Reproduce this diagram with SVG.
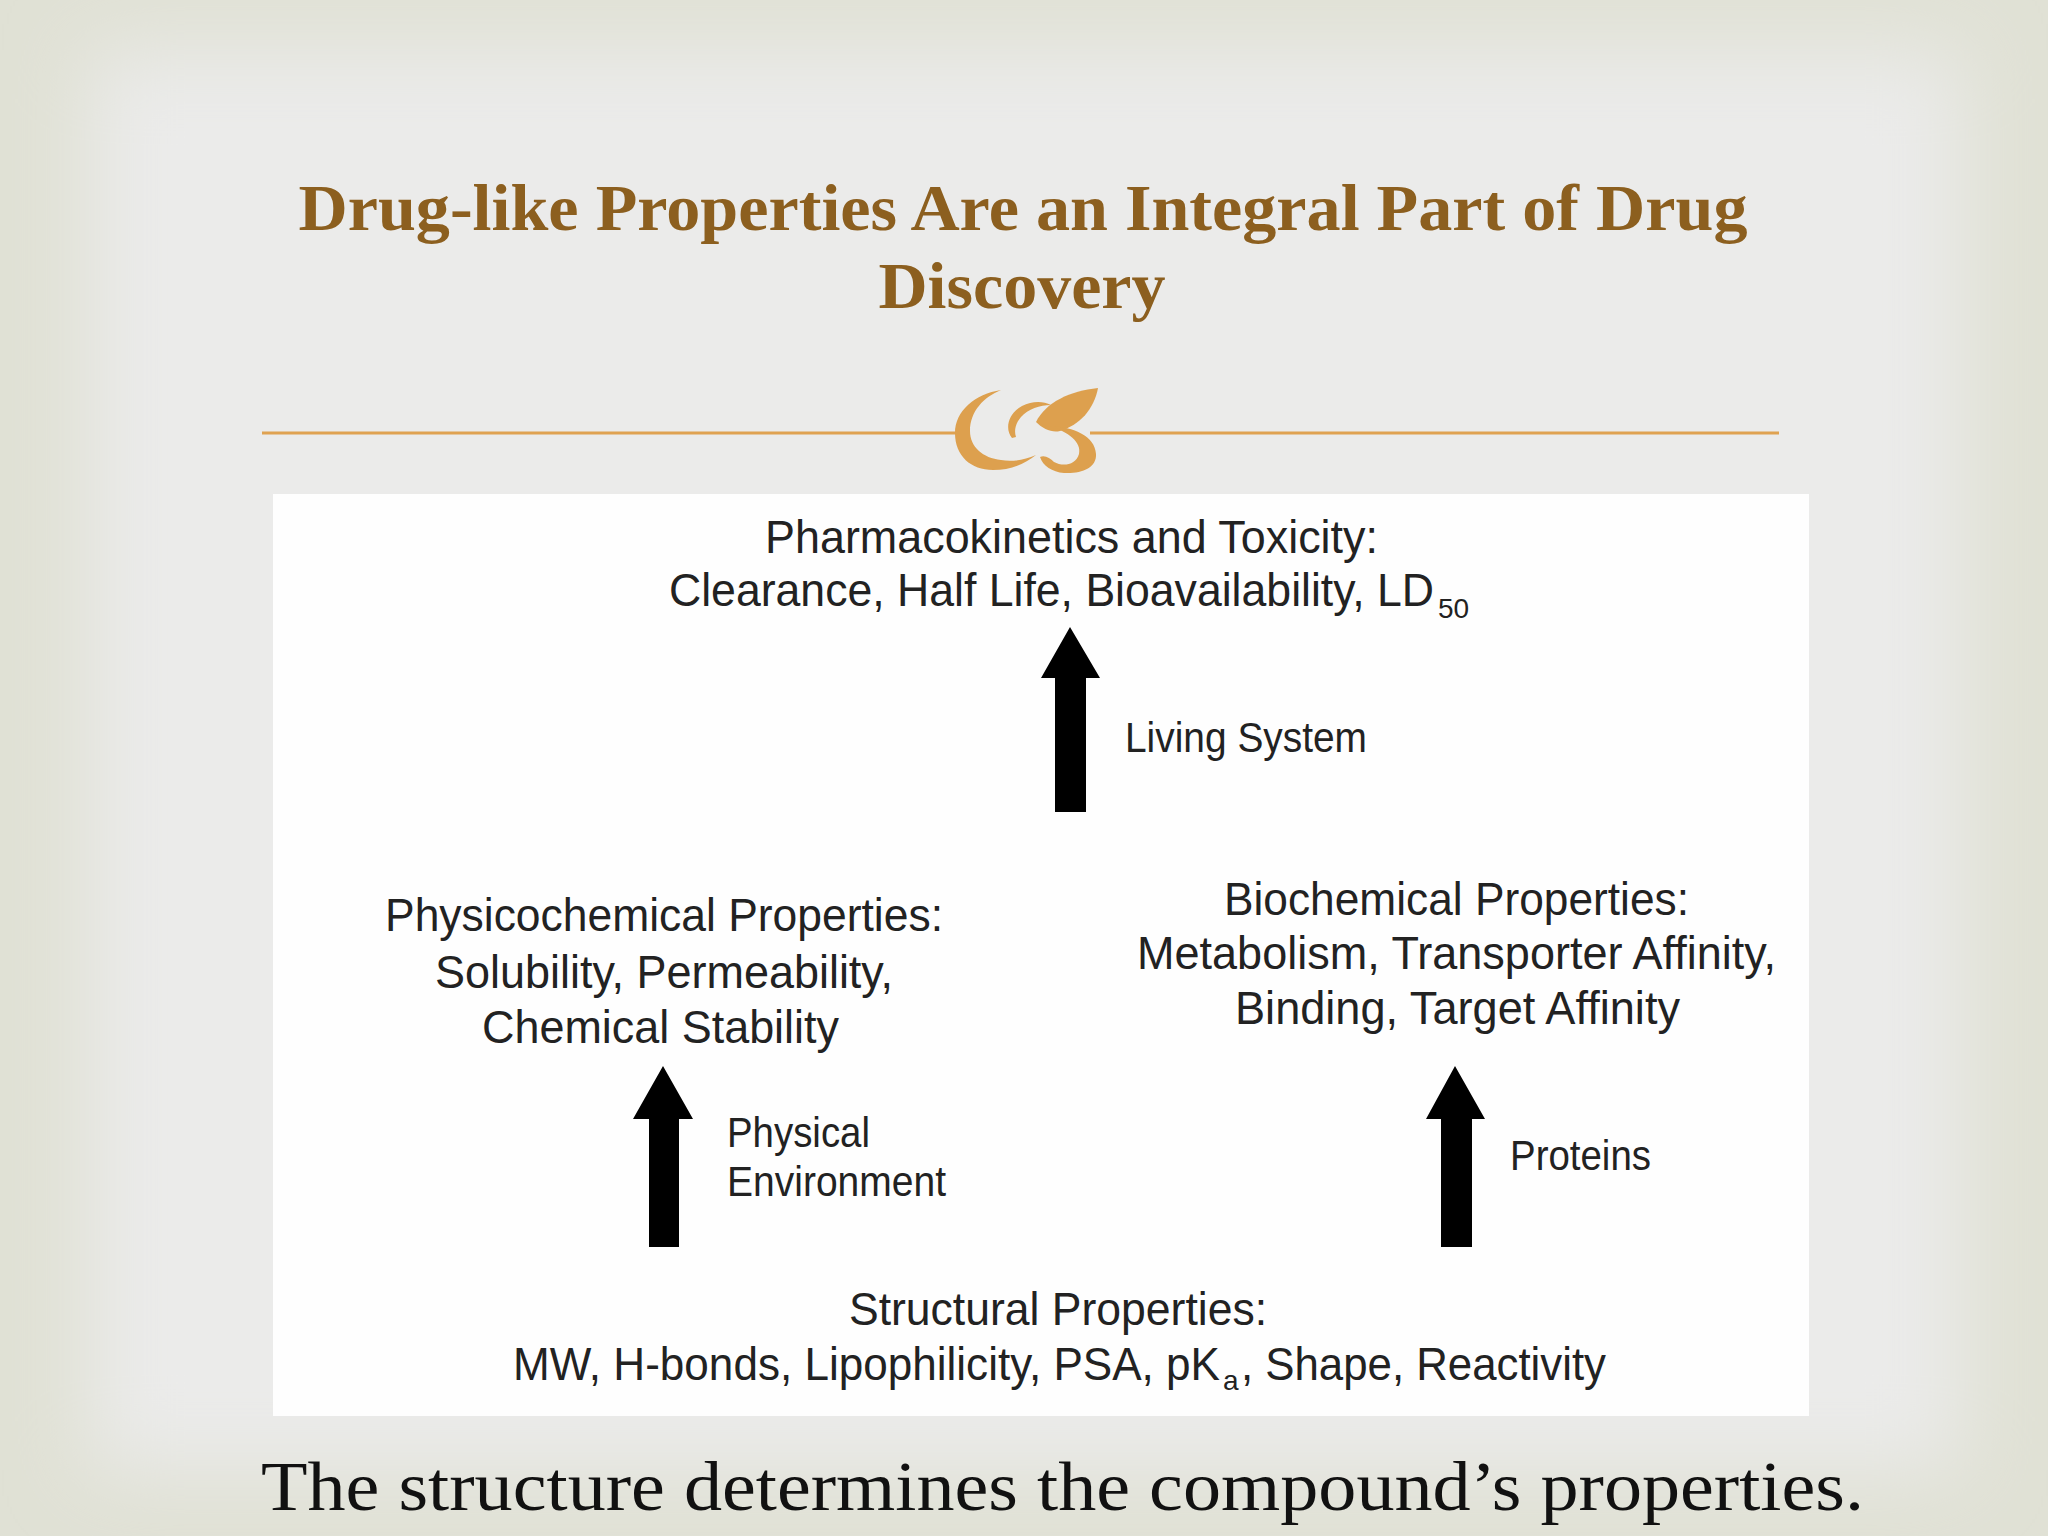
<svg xmlns="http://www.w3.org/2000/svg" width="2048" height="1536" viewBox="0 0 2048 1536">
  <defs>
    <filter id="soft" x="-10%" y="-10%" width="120%" height="120%">
      <feGaussianBlur stdDeviation="40"/>
    </filter>
    <style>
      .title { font-family: "Liberation Serif", "Times New Roman", serif; font-weight: bold; font-size: 66px; fill: #8C5F1F; }
      .lbl { font-family: "Liberation Sans", Arial, sans-serif; font-size: 46px; fill: #222222; }
      .sub { font-size: 28px; }
      .edge { font-family: "Liberation Sans", Arial, sans-serif; font-size: 42px; fill: #222222; }
      .caption { font-family: "Liberation Serif", "Times New Roman", serif; font-size: 70px; fill: #111111; }
      .arrow { fill: #000000; }
      .rule { stroke: #DFA251; stroke-width: 3; fill: none; }
      .orn { fill: #DDA04E; }
    </style>
  </defs>

  <!-- slide background -->
  <rect x="0" y="0" width="2048" height="1536" fill="#E0E1D5"/>
  <rect x="90" y="50" width="1870" height="1420" fill="#EBEBEA" filter="url(#soft)"/>

  <!-- title -->
  <g id="title">
    <text class="title" x="1023" y="230" text-anchor="middle" textLength="1449" lengthAdjust="spacingAndGlyphs">Drug-like Properties Are an Integral Part of Drug</text>
    <text class="title" x="1022" y="308" text-anchor="middle" textLength="287" lengthAdjust="spacingAndGlyphs">Discovery</text>
  </g>

  <!-- divider with ornament -->
  <g id="divider">
    <line class="rule" x1="262" y1="433" x2="958" y2="433"/>
    <line class="rule" x1="1090" y1="433" x2="1779" y2="433"/>
    <path class="orn" d="M1001,390 C975,394 955,411 955,433 C955,456 971,470 993,470 C1010,470 1025,464 1036,455 C1024,460 1012,462 1001,460 C983,458 970,447 970,431 C970,411 984,397 1001,390 Z"/>
    <path class="orn" d="M1012,438 C1004,428 1009,413 1022,406 C1032,401 1043,401 1051,405 C1040,405 1028,409 1021,417 C1015,424 1014,431 1016,437 Z"/>
    <path class="orn" d="M1036,422 C1046,402 1070,391 1098,388 C1094,409 1080,425 1060,431 C1052,433 1043,429 1036,422 Z"/>
    <path class="orn" d="M1050,426 C1074,427 1095,436 1096,454 C1097,468 1081,474 1064,473 C1052,472 1043,466 1040,457 C1045,455 1050,458 1054,462 C1063,467 1076,465 1079,454 C1082,442 1068,432 1050,426 Z"/>
  </g>

  <!-- diagram panel -->
  <rect x="273" y="494" width="1536" height="922" fill="#FEFEFE"/>

  <g id="node-pk-tox">
    <text class="lbl" x="765" y="553" textLength="613" lengthAdjust="spacingAndGlyphs">Pharmacokinetics and Toxicity:</text>
    <text class="lbl"><tspan x="669" y="606" textLength="765" lengthAdjust="spacingAndGlyphs">Clearance, Half Life, Bioavailability, LD</tspan><tspan class="sub" x="1438" y="618">50</tspan></text>
  </g>

  <g id="node-physicochemical">
    <text class="lbl" x="385" y="931" textLength="558" lengthAdjust="spacingAndGlyphs">Physicochemical Properties:</text>
    <text class="lbl" x="435" y="988" textLength="458" lengthAdjust="spacingAndGlyphs">Solubility, Permeability,</text>
    <text class="lbl" x="482" y="1043" textLength="357" lengthAdjust="spacingAndGlyphs">Chemical Stability</text>
  </g>

  <g id="node-biochemical">
    <text class="lbl" x="1224" y="915" textLength="465" lengthAdjust="spacingAndGlyphs">Biochemical Properties:</text>
    <text class="lbl" x="1137" y="969" textLength="639" lengthAdjust="spacingAndGlyphs">Metabolism, Transporter Affinity,</text>
    <text class="lbl" x="1235" y="1024" textLength="445" lengthAdjust="spacingAndGlyphs">Binding, Target Affinity</text>
  </g>

  <g id="node-structural">
    <text class="lbl" x="849" y="1325" textLength="418" lengthAdjust="spacingAndGlyphs">Structural Properties:</text>
    <text class="lbl"><tspan x="513" y="1380" textLength="707" lengthAdjust="spacingAndGlyphs">MW, H-bonds, Lipophilicity, PSA, pK</tspan><tspan class="sub" x="1223" y="1390">a</tspan><tspan x="1241" y="1380" textLength="365" lengthAdjust="spacingAndGlyphs">, Shape, Reactivity</tspan></text>
  </g>

  <g id="connectors">
    <polygon class="arrow" points="1070,627 1100,678 1086,678 1086,812 1055,812 1055,678 1041,678"/>
    <text class="edge" x="1125" y="752" textLength="242" lengthAdjust="spacingAndGlyphs">Living System</text>

    <polygon class="arrow" points="663,1066 693,1119 679,1119 679,1247 649,1247 649,1119 633,1119"/>
    <text class="edge" x="727" y="1147" textLength="143" lengthAdjust="spacingAndGlyphs">Physical</text>
    <text class="edge" x="727" y="1196" textLength="219" lengthAdjust="spacingAndGlyphs">Environment</text>

    <polygon class="arrow" points="1455,1066 1485,1119 1472,1119 1472,1247 1441,1247 1441,1119 1426,1119"/>
    <text class="edge" x="1510" y="1170" textLength="141" lengthAdjust="spacingAndGlyphs">Proteins</text>
  </g>

  <!-- caption -->
  <text class="caption" x="261" y="1510" textLength="1603" lengthAdjust="spacingAndGlyphs">The structure determines the compound’s properties.</text>
</svg>
